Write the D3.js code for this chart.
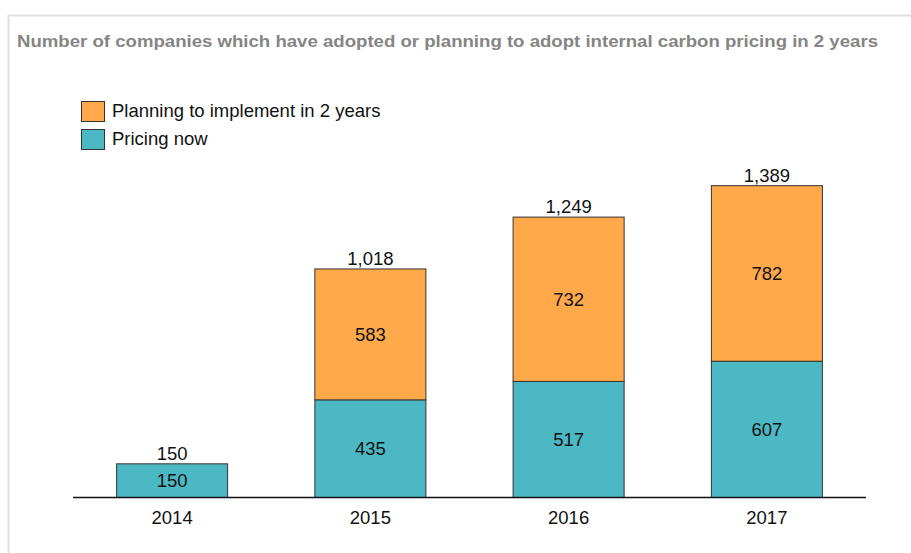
<!DOCTYPE html>
<html>
<head>
<meta charset="utf-8">
<script src="https://cdn.jsdelivr.net/npm/d3@7"></script>
<style>
  body { margin: 0; background: #fff; }
  svg { display: block; font-family: "Liberation Sans", Arial, sans-serif; }
</style>
</head>
<body>
<div id="chart"></div>
<script>
const years = ["2014", "2015", "2016", "2017"];
const pricingNow = [150, 435, 517, 607];
const planning = [0, 583, 732, 782];
const totals = [150, 1018, 1249, 1389];
const seriesNames = ["Planning to implement in 2 years", "Pricing now"];

const width = 911;
const height = 553;

const svg = d3
  .select("#chart")
  .append("svg")
  .attr("width", width)
  .attr("height", height);

// frame
svg
  .append("path")
  .attr("d", `M8.5,${height} V15.5 H${width}`)
  .attr("fill", "none")
  .attr("stroke", "#e0e0e0")
  .attr("stroke-width", 2);

svg
  .append("text")
  .attr("x", 17)
  .attr("y", 47)
  .attr("textLength", 861)
  .attr("lengthAdjust", "spacingAndGlyphs")
  .style("font-size", "17px")
  .style("font-weight", "bold")
  .style("fill", "#858585")
  .text("Number of companies which have adopted or planning to adopt internal carbon pricing in 2 years");

const x = d3.scaleBand().domain(years).range([73, 866]).paddingInner(0.44).paddingOuter(0.22);
const y = d3.scaleLinear().domain([0, 1600]).range([497.5, 497.5 - 1600 * 0.2245]);

const colors = { now: "#4BB8C3", plan: "#FFA94B" };
const fs = "18.5px";

const data = years.map((yr, i) => ({
  year: yr,
  now: pricingNow[i],
  plan: planning[i],
  total: totals[i],
}));

const g = svg.append("g");

// pricing now segments
g.selectAll(".now")
  .data(data)
  .enter()
  .append("rect")
  .attr("class", "now")
  .attr("x", (d) => x(d.year))
  .attr("width", x.bandwidth())
  .attr("y", (d) => y(d.now))
  .attr("height", (d) => y(0) - y(d.now))
  .attr("fill", colors.now)
  .attr("stroke", "#333")
  .attr("stroke-width", 1);

// planning segments
g.selectAll(".plan")
  .data(data.filter((d) => d.plan > 0))
  .enter()
  .append("rect")
  .attr("class", "plan")
  .attr("x", (d) => x(d.year))
  .attr("width", x.bandwidth())
  .attr("y", (d) => y(d.now + d.plan))
  .attr("height", (d) => y(d.now) - y(d.now + d.plan))
  .attr("fill", colors.plan)
  .attr("stroke", "#333")
  .attr("stroke-width", 1);

// segment labels
g.selectAll(".nowLabel")
  .data(data)
  .enter()
  .append("text")
  .attr("x", (d) => x(d.year) + x.bandwidth() / 2)
  .attr("y", (d) => (y(0) + y(d.now)) / 2)
  .attr("dy", "0.35em")
  .attr("text-anchor", "middle")
  .style("font-size", fs)
  .style("fill", "#111")
  .text((d) => d3.format(",")(d.now));

g.selectAll(".planLabel")
  .data(data.filter((d) => d.plan > 0))
  .enter()
  .append("text")
  .attr("x", (d) => x(d.year) + x.bandwidth() / 2)
  .attr("y", (d) => (y(d.now) + y(d.now + d.plan)) / 2)
  .attr("dy", "0.35em")
  .attr("text-anchor", "middle")
  .style("font-size", fs)
  .style("fill", "#111")
  .text((d) => d3.format(",")(d.plan));

// totals
g.selectAll(".total")
  .data(data)
  .enter()
  .append("text")
  .attr("x", (d) => x(d.year) + x.bandwidth() / 2)
  .attr("y", (d) => y(d.total) - 4)
  .attr("text-anchor", "middle")
  .style("font-size", fs)
  .style("fill", "#111")
  .text((d) => d3.format(",")(d.total));

// x axis
const xAxis = svg
  .append("g")
  .attr("transform", `translate(0,${y(0)})`)
  .call(d3.axisBottom(x).tickSize(0).tickPadding(13));
xAxis.select(".domain").attr("stroke", "#111").attr("stroke-width", 1.5).attr("d", `M73,0H866`);
xAxis.selectAll("text").style("font-size", fs).style("fill", "#111").attr("font-family", "Liberation Sans, Arial, sans-serif");

// legend
const legend = svg.append("g");
const legendItems = [
  { name: seriesNames[0], color: colors.plan, y: 101 },
  { name: seriesNames[1], color: colors.now, y: 129 },
];
legendItems.forEach((item) => {
  legend
    .append("rect")
    .attr("x", 81.5)
    .attr("y", item.y + 0.5)
    .attr("width", 23)
    .attr("height", 20)
    .attr("fill", item.color)
    .attr("stroke", "#333");
  legend
    .append("text")
    .attr("x", 112)
    .attr("y", item.y + 10)
    .attr("dy", "0.35em")
    .style("font-size", fs)
    .style("fill", "#111")
    .text(item.name);
});
</script>
</body>
</html>
